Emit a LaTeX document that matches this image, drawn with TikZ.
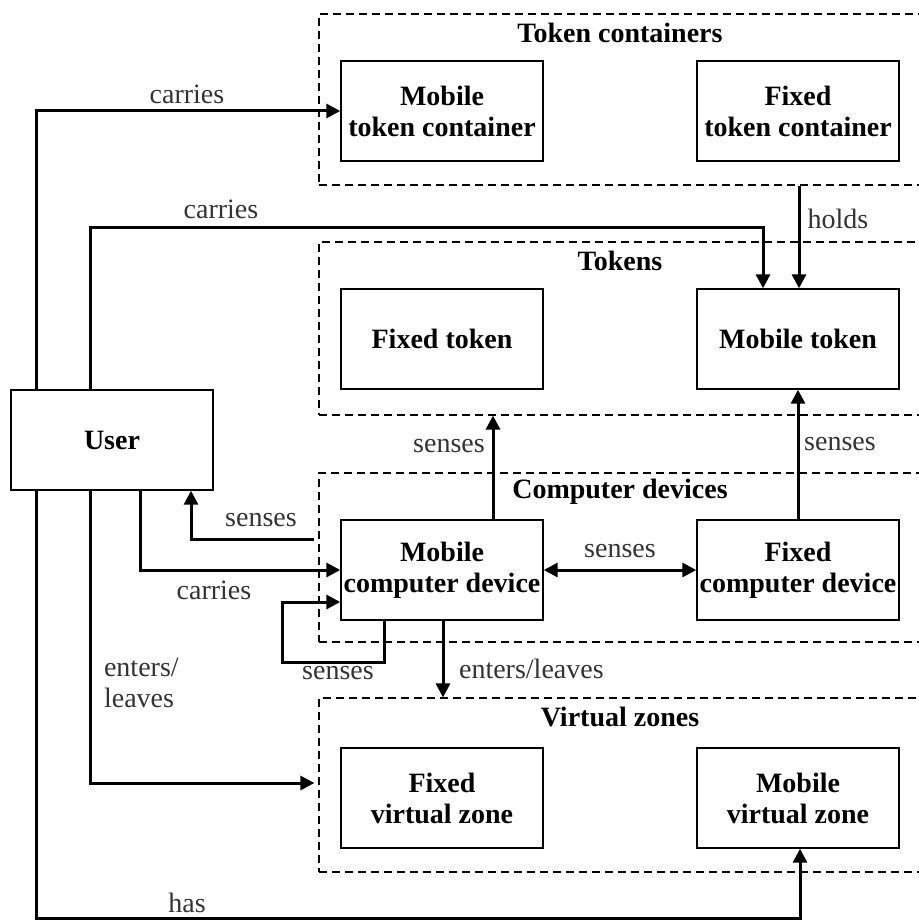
\documentclass[tikz,border=0pt]{standalone}
\usepackage{fontspec}
\setmainfont{Liberation Serif}
\usetikzlibrary{arrows.meta}
\usetikzlibrary{fit}
\tikzset{box/.style={draw, line width=0.7pt, minimum width=101pt, minimum height=50pt, inner sep=1pt, align=center, font=\fontsize{14}{15.5}\selectfont\bfseries}}
\tikzset{group/.style={draw, line width=0.6pt, dash pattern=on 4pt off 2.5pt, inner sep=0pt}}
\tikzset{title/.style={font=\fontsize{14}{15.5}\selectfont\bfseries}}
\tikzset{lbl/.style={font=\fontsize{14}{15.5}\selectfont, text=black!80}}
\tikzset{arr/.style={-{Triangle[length=7pt,width=7pt]}, line width=1.5pt}}

\begin{document}
\begin{tikzpicture}[x=0.5pt,y=-0.5pt]
\clip (0,0) rectangle (919,920);
% groups
\node[group, fit={(319,14) (940,185)}] (tc) {};
\node[group, fit={(319,242) (940,415)}] (tok) {};
\node[group, fit={(319,473) (940,642)}] (cd) {};
\node[group, fit={(319,698) (940,872)}] (vz) {};
\node[title] (tctitle) at (620,33) {Token containers};
\node[title] (toktitle) at (620,261) {Tokens};
\node[title] (cdtitle) at (620,492) {Computer devices};
\node[title] (vztitle) at (620,717) {Virtual zones};
% boxes
\node[box] (user) at (112,440) {User};
\node[box] (mtc) at (442,111) {Mobile\\token container};
\node[box] (ftc) at (798,111) {Fixed\\token container};
\node[box] (ft) at (442,339) {Fixed token};
\node[box] (mt) at (798,339) {Mobile token};
\node[box] (mcd) at (442,570) {Mobile\\computer device};
\node[box] (fcd) at (798,570) {Fixed\\computer device};
\node[box] (fvz) at (442,798) {Fixed\\virtual zone};
\node[box] (mvz) at (798,798) {Mobile\\virtual zone};
% connectors
\draw[arr] (user.north -| 36,0) |- (mtc.west);
\draw[arr] (user.north -| 90,0) |- (763,227) -- (mt.north -| 763,0);
\draw[arr] (tc.south -| 799,0) -- (mt.north -| 799,0);
\draw[arr] (mcd.north -| 493,0) -- (tok.south -| 493,0);
\draw[arr] (fcd.north) -- (mt.south);
\draw[arr] ([xshift=-2pt]cd.west |- 0,539) -| (user.south -| 191,0);
\draw[arr] (user.south -| 140,0) |- (mcd.west);
\draw[arr] (mcd.south -| 384,0) -- (384,662) -| (282,602) -- (mcd.west |- 0,602);
\draw[arr] (mcd.south -| 443,0) -- (vz.north -| 443,0);
\draw[arr, {Triangle[length=7pt,width=7pt]}-{Triangle[length=7pt,width=7pt]}] (mcd.east) -- (fcd.west);
\draw[arr] (user.south -| 90,0) |- ([xshift=-2pt]vz.west |- 0,783);
\draw[arr] (user.south -| 36,0) -- (36,918) -| (mvz.south -| 800,0);
% labels
\node[lbl] (l1) at (187,94) {carries};
\node[lbl] (l2) at (221,209) {carries};
\node[lbl] (l3) at (838,219) {holds};
\node[lbl] (l4) at (449,446) {senses};
\node[lbl] (l5) at (840,444) {senses};
\node[lbl] (l6) at (261,520) {senses};
\node[lbl] (l7) at (214,590) {carries};
\node[lbl] (l8) at (620,551) {senses};
\node[lbl] (l9) at (338,673) {senses};
\node[lbl, anchor=west] (l10) at (452,669) {enters/leaves};
\node[lbl, anchor=west, align=left] (l11) at (97,683) {enters/\\leaves};
\node[lbl] (l12) at (187,903) {has};
\end{tikzpicture}
\end{document}
